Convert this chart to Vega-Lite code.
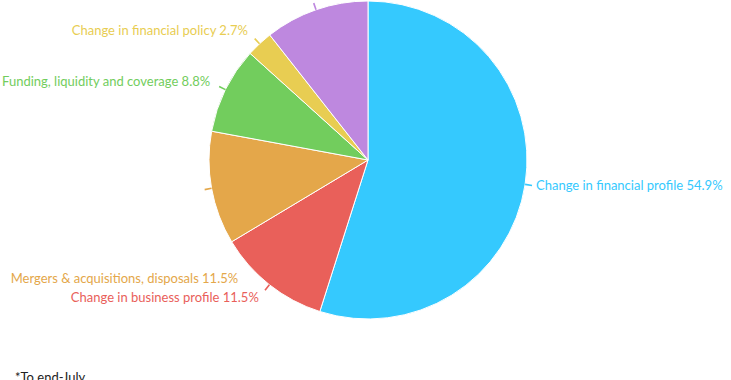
{
  "$schema": "https://vega.github.io/schema/vega-lite/v6.json",
  "width": 736,
  "height": 316,
  "autosize": {"type": "pad"},
  "padding": 0,
  "background": "white",
  "config": {"view": {"stroke": null}, "font": "Lato"},
  "title": {"text": "*To end-July", "orient": "bottom", "anchor": "start", "fontSize": 13, "fontWeight": "normal", "color": "#222222", "font": "Lato", "offset": 52, "dx": 15},
  "data": {"values": [
    {"category": "Change in financial profile", "share": 54.9},
    {"category": "Change in business profile", "share": 11.5},
    {"category": "Mergers & acquisitions, disposals", "share": 11.5},
    {"category": "Funding, liquidity and coverage", "share": 8.8},
    {"category": "Change in financial policy", "share": 2.7},
    {"category": "Other", "share": 10.6}
  ]},
  "transform": [
    {"window": [{"op": "row_number", "as": "idx"}]},
    {"window": [{"op": "sum", "field": "share", "as": "cum"}], "sort": [{"field": "idx"}], "frame": [null, 0]},
    {"joinaggregate": [{"op": "sum", "field": "share", "as": "total"}]},
    {"calculate": "(datum.cum - datum.share/2)/datum.total", "as": "mid"},
    {"calculate": "2*PI*datum.mid - 0.005", "as": "a0"},
    {"calculate": "2*PI*datum.mid + 0.005", "as": "a1"},
    {"calculate": "datum.category == 'Mergers & acquisitions, disposals' ? 2*PI*0.632 : 2*PI*datum.mid", "as": "amid"},
    {"calculate": "datum.category + ' ' + format(datum.share, '.1f') + '%'", "as": "label"}
  ],
  "encoding": {
    "color": {
      "field": "category",
      "type": "nominal",
      "legend": null,
      "scale": {
        "domain": ["Change in financial profile", "Change in business profile", "Mergers & acquisitions, disposals", "Funding, liquidity and coverage", "Change in financial policy", "Other"],
        "range": ["#35c9fe", "#e9605a", "#e4a74a", "#72cd5d", "#e8cd52", "#be88df"]
      }
    }
  },
  "layer": [
    {
      "mark": {"type": "arc", "outerRadius": 159, "stroke": "white", "strokeWidth": 1, "strokeJoin": "round"},
      "encoding": {
        "theta": {"field": "share", "type": "quantitative", "stack": true},
        "order": {"field": "idx", "type": "quantitative"}
      }
    },
    {
      "mark": {"type": "arc", "radius": 166, "radius2": 159},
      "encoding": {
        "theta": {"field": "a0", "type": "quantitative", "scale": null},
        "theta2": {"field": "a1"}
      }
    },
    {
      "transform": [{"filter": "datum.mid < 0.5"}],
      "mark": {"type": "text", "align": "left", "baseline": "middle", "radius": 170, "fontSize": 13},
      "encoding": {
        "theta": {"field": "amid", "type": "quantitative", "scale": null},
        "text": {"field": "label"}
      }
    },
    {
      "transform": [{"filter": "datum.mid >= 0.5 && datum.mid < 0.93"}],
      "mark": {"type": "text", "align": "right", "baseline": "middle", "radius": 176, "fontSize": 13},
      "encoding": {
        "theta": {"field": "amid", "type": "quantitative", "scale": null},
        "text": {"field": "label"}
      }
    }
  ],
  "resolve": {"scale": {"theta": "independent"}}
}
